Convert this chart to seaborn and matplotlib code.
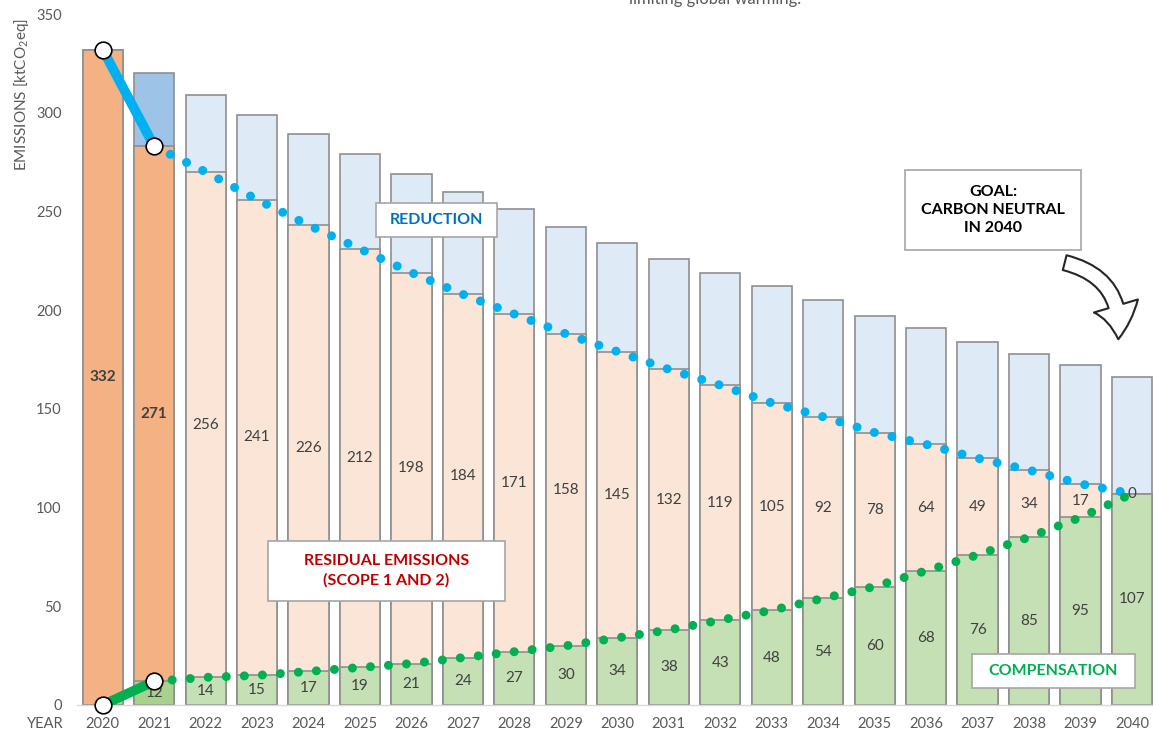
import seaborn as sns
import pandas as pd
import matplotlib.pyplot as plt
import numpy as np
from matplotlib.patches import Rectangle, FancyArrowPatch

# data
years = [str(y) for y in range(2020, 2041)]
compensation = [0, 12, 14, 15, 17, 19, 21, 24, 27, 30, 34, 38, 43, 48, 54, 60, 68, 76, 85, 95, 107]
residual = [332, 271, 256, 241, 226, 212, 198, 184, 171, 158, 145, 132, 119, 105, 92, 78, 64, 49, 34, 17, 0]
total = [332, 320, 309, 299, 289, 279, 269, 260, 251, 242, 234, 226, 219, 212, 205, 197, 191, 184, 178, 172, 166]

df = pd.DataFrame({
    "year": years,
    "total": total,
    "stack": [r + c for r, c in zip(residual, compensation)],
    "comp": compensation,
})

# colours: first two years are "actual", rest are plan
blue_cols = ["#9DC3E6", "#9DC3E6"] + ["#DEEBF7"] * 19
orange_cols = ["#F4B183", "#F4B183"] + ["#FBE5D6"] * 19
green_cols = ["#A9D18E", "#A9D18E"] + ["#C5E0B4"] * 19
edge = "#8F8F8F"

sns.set_theme(style="white")
plt.rcParams["font.family"] = ["Lato", "DejaVu Sans"]
plt.rcParams["mathtext.fontset"] = "custom"
plt.rcParams["mathtext.rm"] = "Lato"

W, H = 1153, 731
fig = plt.figure(figsize=(W / 100, H / 100), dpi=100)
ax = fig.add_axes([77 / W, 26 / H, 1076 / W, 691 / H])

bar_kw = dict(x="year", width=0.78, edgecolor=edge, linewidth=1.2,
              saturation=1, legend=False, ax=ax)
sns.barplot(data=df, y="total", hue="year", palette=blue_cols, **bar_kw)
sns.barplot(data=df, y="stack", hue="year", palette=orange_cols, **bar_kw)
sns.barplot(data=df, y="comp", hue="year", palette=green_cols, **bar_kw)

idx = np.arange(len(years))

# value labels
for i in idx:
    bold = "bold" if i < 2 else "normal"
    ax.text(i, compensation[i] + residual[i] / 2, str(residual[i]), ha="center", va="center",
            fontsize=11, color="#404040", fontweight=bold, zorder=6)
    if compensation[i] > 0:
        ax.text(i, compensation[i] / 2, str(compensation[i]), ha="center", va="center",
                fontsize=11, color="#404040", zorder=4)

# dotted trend lines
ax.plot(idx[1:], df["stack"][1:], color="#00B0F0", lw=6.5, linestyle=(0, (0.001, 2.0)),
        dash_capstyle="round", zorder=5)
ax.plot(idx[1:], df["comp"][1:], color="#00B050", lw=6.5, linestyle=(0, (0.001, 2.0)),
        dash_capstyle="round", zorder=5)

# actual 2020 -> 2021
ax.plot(idx[:2], df["stack"][:2], color="#00B0F0", lw=7, zorder=7, solid_capstyle="butt")
ax.plot(idx[:2], df["comp"][:2], color="#00B050", lw=7, zorder=7, solid_capstyle="butt")
ax.plot(idx[:2], df["stack"][:2], lw=0, marker="o", ms=12, mfc="white", mec="black",
        mew=1.2, zorder=8, clip_on=False)
ax.plot(idx[:2], df["comp"][:2], lw=0, marker="o", ms=12, mfc="white", mec="black",
        mew=1.2, zorder=8, clip_on=False)

ax.set_xlim(-0.5, 20.41)
ax.set_ylim(0, 350)
ax.set_yticks(range(0, 351, 50))
ax.set_xlabel("")
ax.set_ylabel("")
ax.tick_params(axis="x", length=0, pad=9, labelsize=10.5, labelcolor="#595959")
ax.tick_params(axis="y", length=0, pad=11, labelsize=10.5, labelcolor="#595959")
for s in ["top", "right", "left"]:
    ax.spines[s].set_visible(False)
ax.spines["bottom"].set_color("#D9D9D9")
ax.spines["bottom"].set_linewidth(1)

fig.text(45 / W, 1 - 724 / H, "YEAR", ha="center", va="center", fontsize=10.5, color="#595959")
fig.text(22 / W, 1 - 18 / H, r"EMISSIONS [ktCO$\mathregular{_2}$eq]", rotation=90,
         ha="center", va="top", fontsize=11, color="#595959")
fig.text(715 / W, 1 - 4 / H, "limiting global warming.", ha="center", va="baseline",
         fontsize=12, color="#595959")


def box(x0, y0, x1, y1, text, color):
    ax.add_patch(Rectangle((x0 / W, 1 - y1 / H), (x1 - x0) / W, (y1 - y0) / H,
                           transform=fig.transFigure, facecolor="white", edgecolor="#A6A6A6",
                           lw=1.2, zorder=10, clip_on=False))
    ax.text((x0 + x1) / 2 / W, 1 - (y0 + y1) / 2 / H, text, transform=fig.transFigure,
            ha="center", va="center", multialignment="center", fontsize=11.5,
            fontweight="bold", color=color, linespacing=1.4, zorder=11)


box(376, 203, 497, 237, "REDUCTION", "#0070C0")
box(268, 541, 505, 601, "RESIDUAL EMISSIONS\n(SCOPE 1 AND 2)", "#C00000")
box(972, 654, 1135, 688, "COMPENSATION", "#00B050")
box(905, 170, 1081, 250, "GOAL:\nCARBON NEUTRAL\nIN 2040", "#000000")

arrow = FancyArrowPatch((1062 / W, 1 - 262 / H), (1118 / W, 1 - 342 / H),
                        transform=fig.transFigure,
                        connectionstyle="arc3,rad=-0.45",
                        arrowstyle="simple,head_width=33,head_length=24,tail_width=11",
                        mutation_scale=1, facecolor="white", edgecolor="#262626", lw=1.5,
                        zorder=12, clip_on=False)
ax.add_patch(arrow)

fig.savefig("out.png", dpi=100)
